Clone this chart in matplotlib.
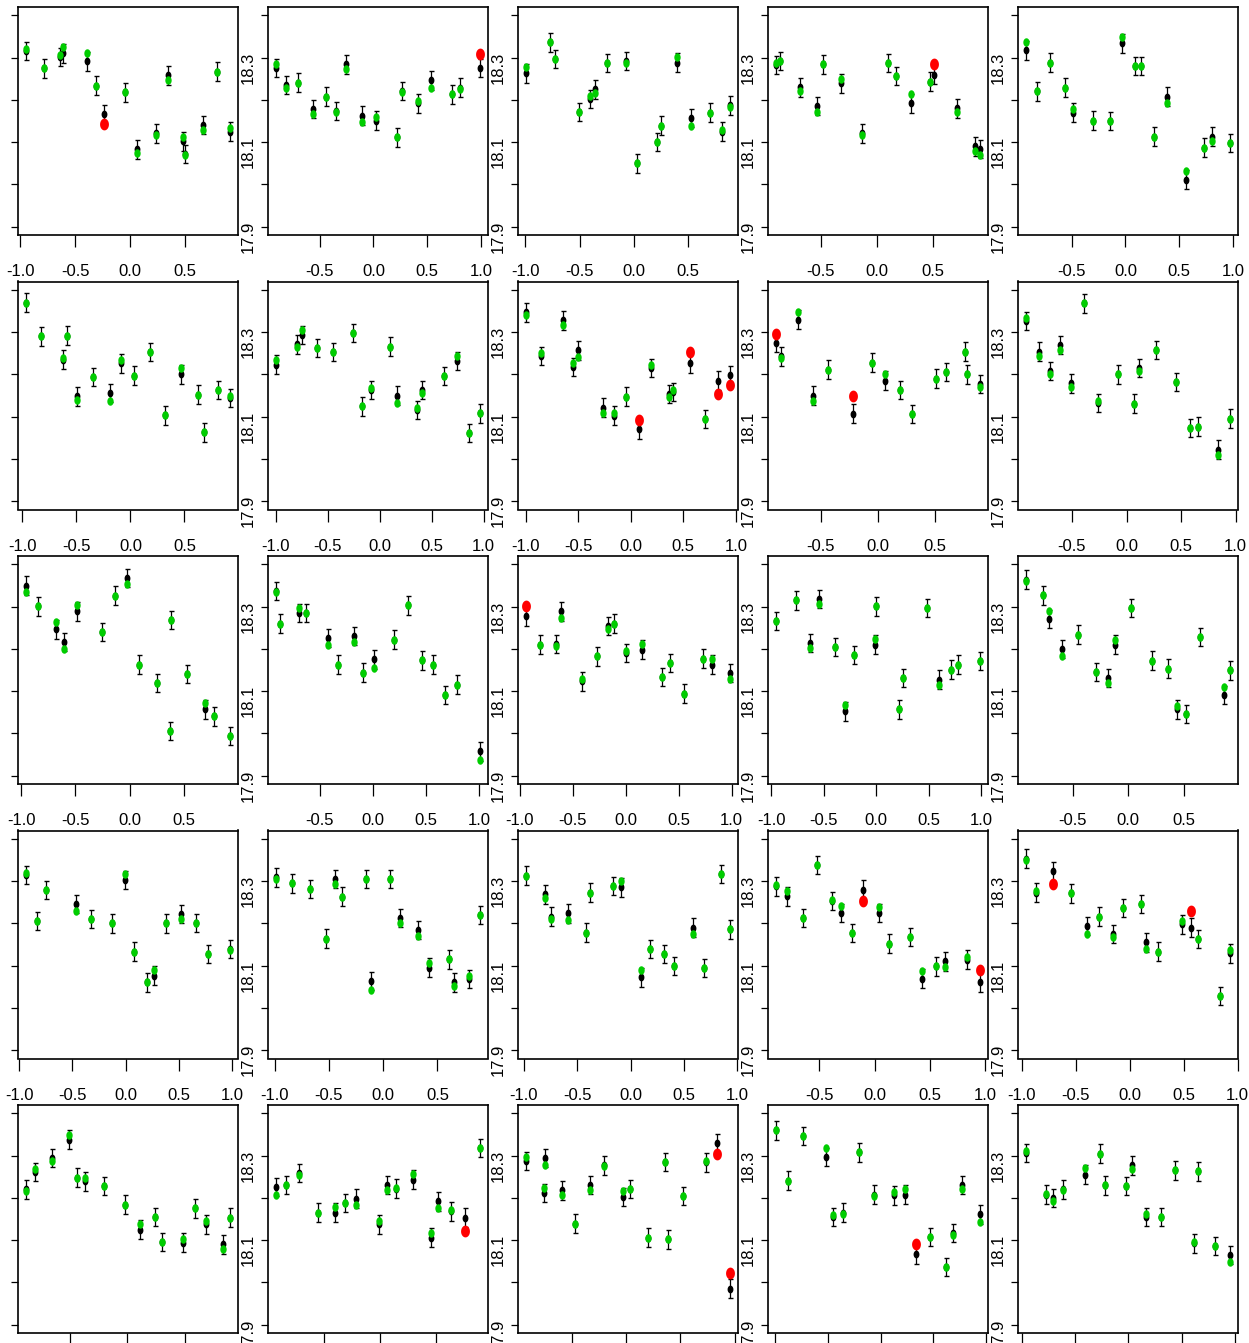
import numpy as np
import matplotlib
matplotlib.use("Agg")
import matplotlib.pyplot as plt
from matplotlib import font_manager
from matplotlib.path import Path

# narrow Helvetica-like face if the box has one, Arial metrics otherwise
installed = {f.name for f in font_manager.fontManager.ttflist}
face = 'Liberation Sans Narrow' if 'Liberation Sans Narrow' in installed else 'Liberation Sans'
plt.rcParams['font.family'] = [face, 'DejaVu Sans']
plt.rcParams['axes.unicode_minus'] = False

# x position, observed value (black, with error bar), fitted value (green),
# and which fitted points are flagged (red) -- one inner list per panel,
# row by row
x_vals = [
    [-0.945,-0.785,-0.64,-0.61,-0.39,-0.31,-0.24,-0.045,0.064,0.233,0.342,0.476,0.5,0.658,0.788,0.906],
    [-0.904,-0.817,-0.697,-0.563,-0.437,-0.347,-0.254,-0.102,0.028,0.217,0.269,0.412,0.532,0.728,0.808,0.99],
    [-0.993,-0.77,-0.726,-0.507,-0.402,-0.354,-0.245,-0.074,0.026,0.219,0.249,0.398,0.533,0.704,0.818,0.888],
    [-0.898,-0.864,-0.681,-0.536,-0.481,-0.315,-0.136,0.102,0.174,0.302,0.472,0.515,0.715,0.881,0.92],
    [-0.922,-0.825,-0.697,-0.565,-0.49,-0.3,-0.146,-0.031,0.093,0.141,0.269,0.388,0.565,0.732,0.807,0.97],
    [-0.966,-0.833,-0.627,-0.583,-0.494,-0.347,-0.185,-0.089,0.037,0.184,0.324,0.464,0.626,0.685,0.811,0.921],
    [-0.997,-0.797,-0.744,-0.605,-0.451,-0.259,-0.166,-0.082,0.095,0.164,0.357,0.411,0.618,0.741,0.857,0.964],
    [-0.994,-0.854,-0.646,-0.547,-0.5,-0.266,-0.161,-0.047,0.082,0.196,0.364,0.399,0.566,0.703,0.826,0.943],
    [-0.889,-0.847,-0.695,-0.57,-0.438,-0.222,-0.056,0.063,0.188,0.298,0.507,0.59,0.757,0.778,0.889],
    [-0.92,-0.8,-0.697,-0.609,-0.513,-0.389,-0.257,-0.081,0.066,0.11,0.272,0.455,0.58,0.653,0.837,0.947],
    [-0.953,-0.843,-0.682,-0.601,-0.484,-0.257,-0.132,-0.029,0.081,0.249,0.367,0.381,0.528,0.696,0.77,0.92],
    [-0.909,-0.872,-0.691,-0.624,-0.421,-0.331,-0.18,-0.09,0.015,0.195,0.331,0.466,0.571,0.676,0.796,1.007],
    [-0.939,-0.804,-0.661,-0.609,-0.413,-0.27,-0.165,-0.105,0.008,0.158,0.346,0.421,0.548,0.729,0.811,0.984],
    [-0.955,-0.766,-0.637,-0.546,-0.394,-0.296,-0.212,-0.015,0.0,0.22,0.258,0.485,0.599,0.713,0.781,0.986],
    [-0.92,-0.77,-0.713,-0.598,-0.454,-0.295,-0.18,-0.122,0.022,0.209,0.353,0.439,0.518,0.641,0.864,0.914],
    [-0.933,-0.828,-0.746,-0.463,-0.321,-0.127,-0.007,0.075,0.201,0.269,0.381,0.522,0.664,0.776,0.978],
    [-0.985,-0.838,-0.669,-0.522,-0.441,-0.375,-0.154,-0.11,0.059,0.154,0.324,0.419,0.61,0.654,0.787,0.89],
    [-0.977,-0.798,-0.746,-0.582,-0.418,-0.38,-0.164,-0.089,0.097,0.186,0.313,0.403,0.582,0.686,0.85,0.93],
    [-0.889,-0.789,-0.648,-0.521,-0.386,-0.301,-0.202,-0.105,0.039,0.127,0.325,0.431,0.557,0.636,0.834,0.952],
    [-0.959,-0.871,-0.707,-0.544,-0.396,-0.285,-0.152,-0.063,0.107,0.152,0.263,0.485,0.567,0.633,0.841,0.929],
    [-0.883,-0.81,-0.659,-0.513,-0.443,-0.367,-0.207,-0.017,0.108,0.242,0.306,0.487,0.589,0.691,0.837,0.895],
    [-0.923,-0.838,-0.719,-0.549,-0.4,-0.315,-0.213,-0.009,0.06,0.14,0.289,0.447,0.515,0.63,0.753,0.885],
    [-0.92,-0.748,-0.757,-0.593,-0.473,-0.332,-0.199,-0.027,0.035,0.199,0.363,0.385,0.522,0.735,0.841,0.956],
    [-0.991,-0.882,-0.736,-0.518,-0.45,-0.359,-0.209,-0.059,0.123,0.232,0.336,0.464,0.618,0.686,0.768,0.941],
    [-0.959,-0.772,-0.709,-0.609,-0.403,-0.269,-0.219,-0.025,0.031,0.166,0.306,0.438,0.613,0.653,0.813,0.95],
]

observed = [
    [18.316,18.275,18.302,18.31,18.291,18.234,18.167,18.218,18.083,18.121,18.258,18.102,18.072,18.141,18.267,18.125],
    [18.276,18.235,18.241,18.178,18.208,18.174,18.284,18.163,18.151,18.111,18.221,18.192,18.246,18.213,18.229,18.276],
    [18.263,18.336,18.297,18.171,18.202,18.225,18.287,18.292,18.05,18.1,18.139,18.288,18.157,18.17,18.125,18.187],
    [18.283,18.292,18.23,18.186,18.284,18.239,18.121,18.287,18.257,18.192,18.243,18.259,18.18,18.09,18.084],
    [18.317,18.22,18.288,18.229,18.17,18.151,18.15,18.334,18.28,18.28,18.113,18.208,18.011,18.087,18.113,18.098],
    [18.37,18.29,18.235,18.292,18.148,18.194,18.156,18.226,18.197,18.253,18.103,18.2,18.152,18.063,18.163,18.144],
    [18.223,18.271,18.293,18.263,18.253,18.298,18.124,18.163,18.266,18.15,18.116,18.163,18.196,18.232,18.061,18.108],
    [18.347,18.244,18.328,18.217,18.257,18.121,18.102,18.147,18.07,18.215,18.154,18.158,18.226,18.094,18.185,18.199],
    [18.275,18.243,18.33,18.15,18.211,18.107,18.228,18.185,18.163,18.106,18.19,18.206,18.254,18.2,18.177],
    [18.326,18.254,18.208,18.27,18.179,18.368,18.132,18.2,18.131,18.215,18.258,18.182,18.073,18.076,18.022,18.095],
    [18.35,18.301,18.246,18.216,18.289,18.24,18.326,18.368,18.163,18.119,18.006,18.268,18.141,18.057,18.04,17.994],
    [18.337,18.26,18.285,18.285,18.226,18.163,18.231,18.144,18.175,18.222,18.303,18.173,18.163,18.091,18.115,17.957],
    [18.277,18.21,18.212,18.289,18.123,18.182,18.254,18.26,18.19,18.198,18.133,18.167,18.094,18.177,18.163,18.143],
    [18.266,18.315,18.214,18.318,18.204,18.052,18.186,18.21,18.301,18.057,18.131,18.297,18.127,18.151,18.163,18.171],
    [18.364,18.327,18.271,18.2,18.234,18.145,18.131,18.21,18.297,18.172,18.153,18.057,18.046,18.228,18.091,18.149],
    [18.315,18.206,18.279,18.246,18.21,18.2,18.303,18.133,18.06,18.076,18.2,18.222,18.201,18.127,18.139],
    [18.309,18.295,18.281,18.164,18.305,18.263,18.305,18.064,18.305,18.213,18.184,18.095,18.115,18.06,18.068,18.22],
    [18.313,18.269,18.216,18.224,18.178,18.273,18.289,18.285,18.072,18.139,18.127,18.099,18.19,18.094,18.317,18.186],
    [18.288,18.264,18.213,18.338,18.253,18.225,18.177,18.28,18.225,18.152,18.168,18.069,18.098,18.11,18.114,18.06],
    [18.353,18.273,18.323,18.271,18.194,18.216,18.175,18.236,18.246,18.155,18.133,18.198,18.19,18.163,18.028,18.129],
    [18.22,18.261,18.294,18.338,18.248,18.239,18.228,18.184,18.125,18.155,18.096,18.094,18.175,18.137,18.09,18.153],
    [18.226,18.231,18.259,18.165,18.165,18.188,18.198,18.137,18.231,18.222,18.243,18.106,18.192,18.168,18.153,18.318],
    [18.287,18.294,18.212,18.218,18.139,18.231,18.277,18.202,18.221,18.106,18.285,18.102,18.204,18.284,18.33,17.985],
    [18.36,18.241,18.347,18.297,18.155,18.165,18.308,18.208,18.206,18.208,18.066,18.107,18.036,18.117,18.231,18.161],
    [18.306,18.208,18.2,18.22,18.255,18.305,18.23,18.228,18.277,18.155,18.155,18.265,18.092,18.263,18.086,18.065],
]

fitted = [
    [18.32,18.275,18.306,18.325,18.312,18.234,18.144,18.218,18.075,18.116,18.247,18.113,18.07,18.129,18.267,18.133],
    [18.285,18.228,18.241,18.166,18.208,18.172,18.273,18.147,18.159,18.111,18.218,18.198,18.229,18.213,18.226,18.309],
    [18.279,18.336,18.297,18.171,18.21,18.217,18.287,18.288,18.05,18.1,18.139,18.302,18.139,18.168,18.128,18.184],
    [18.287,18.293,18.222,18.172,18.284,18.25,18.117,18.287,18.257,18.213,18.243,18.285,18.172,18.08,18.07],
    [18.336,18.22,18.288,18.229,18.178,18.151,18.15,18.35,18.28,18.28,18.113,18.192,18.032,18.087,18.103,18.098],
    [18.37,18.29,18.239,18.29,18.14,18.194,18.138,18.234,18.197,18.253,18.103,18.214,18.152,18.063,18.163,18.15],
    [18.233,18.265,18.306,18.263,18.253,18.298,18.124,18.168,18.266,18.132,18.12,18.155,18.196,18.243,18.061,18.108],
    [18.341,18.25,18.317,18.228,18.242,18.108,18.109,18.147,18.092,18.223,18.147,18.162,18.252,18.094,18.154,18.175],
    [18.295,18.239,18.348,18.137,18.211,18.15,18.226,18.2,18.163,18.106,18.19,18.206,18.254,18.2,18.17],
    [18.334,18.243,18.2,18.258,18.171,18.368,18.136,18.2,18.131,18.207,18.258,18.182,18.073,18.076,18.01,18.095],
    [18.334,18.301,18.263,18.2,18.303,18.24,18.326,18.353,18.163,18.119,18.006,18.268,18.141,18.072,18.04,17.994],
    [18.334,18.26,18.297,18.285,18.21,18.163,18.216,18.144,18.155,18.222,18.303,18.173,18.163,18.091,18.115,17.937],
    [18.301,18.21,18.208,18.273,18.129,18.182,18.246,18.26,18.194,18.212,18.133,18.167,18.094,18.177,18.175,18.129],
    [18.266,18.315,18.202,18.307,18.204,18.068,18.186,18.224,18.301,18.057,18.131,18.297,18.115,18.151,18.163,18.171],
    [18.36,18.327,18.289,18.184,18.234,18.145,18.119,18.22,18.297,18.172,18.153,18.064,18.046,18.228,18.11,18.149],
    [18.319,18.206,18.279,18.23,18.21,18.2,18.317,18.133,18.06,18.09,18.2,18.21,18.201,18.127,18.137],
    [18.305,18.295,18.281,18.164,18.293,18.263,18.305,18.042,18.305,18.201,18.171,18.105,18.115,18.052,18.076,18.22],
    [18.313,18.26,18.21,18.208,18.178,18.273,18.289,18.301,18.089,18.139,18.127,18.099,18.175,18.094,18.317,18.186],
    [18.292,18.276,18.213,18.338,18.255,18.242,18.177,18.254,18.238,18.152,18.168,18.088,18.098,18.096,18.121,18.09],
    [18.35,18.277,18.293,18.273,18.176,18.214,18.167,18.236,18.246,18.139,18.133,18.205,18.23,18.163,18.028,18.137],
    [18.217,18.269,18.287,18.35,18.247,18.246,18.228,18.184,18.137,18.155,18.096,18.102,18.175,18.146,18.08,18.153],
    [18.208,18.231,18.255,18.165,18.179,18.188,18.182,18.145,18.218,18.224,18.257,18.117,18.176,18.172,18.121,18.318],
    [18.298,18.279,18.224,18.208,18.139,18.218,18.275,18.216,18.221,18.106,18.285,18.102,18.204,18.288,18.304,18.023],
    [18.36,18.241,18.347,18.318,18.159,18.161,18.308,18.204,18.213,18.221,18.091,18.107,18.036,18.113,18.221,18.143],
    [18.31,18.21,18.192,18.218,18.271,18.305,18.23,18.228,18.269,18.163,18.155,18.265,18.096,18.263,18.086,18.049],
]

flagged = [
    [6], [15], [], [11], [],
    [], [], [8, 12, 14, 15], [0, 5], [],
    [], [], [0], [], [],
    [], [], [], [7, 15], [2, 12],
    [], [14], [14, 15], [10], [],
]

err_half = 0.022
y_ticks = [17.9, 18.0, 18.1, 18.2, 18.3, 18.4]
y_tick_labels = ['17.9', '', '18.1', '', '18.3', '']
x_tick_candidates = [-1.0, -0.5, 0.0, 0.5, 1.0]

# oval dot like the stretched R points
t = np.linspace(0, 2 * np.pi, 60)
oval = Path(np.column_stack([0.75 * np.cos(t), np.sin(t)]), closed=True)

W, H = 1249, 1343
fig = plt.figure(figsize=(W / 100, H / 100), dpi=100)

for i in range(25):
    r, c = divmod(i, 5)
    left = 18 + 250 * c
    top = 7 + 274.5 * r
    ax = fig.add_axes([left / W, 1 - (top + 228) / H, 220 / W, 228 / H])

    x = np.array(x_vals[i])
    obs = np.array(observed[i])
    fit = np.array(fitted[i])
    red = np.zeros(len(x), dtype=bool)
    red[flagged[i]] = True

    ax.errorbar(x, obs, yerr=err_half, fmt='none', ecolor='black',
                elinewidth=0.9, capsize=1.8, capthick=1.0, zorder=2)
    ax.plot(x, obs, linestyle='none', marker=oval, markersize=5.6,
            color='black', markeredgewidth=0, zorder=3)
    ax.plot(x[~red], fit[~red], linestyle='none', marker=oval, markersize=6.1,
            color='#00CD00', markeredgewidth=0, zorder=4)
    ax.plot(x[red], fit[red], linestyle='none', marker=oval, markersize=8.5,
            color='#FF0000', markeredgewidth=0, zorder=5)

    # R style 4% padding around the data
    span = x.max() - x.min()
    lo, hi = x.min() - 0.04 * span, x.max() + 0.04 * span
    ax.set_xlim(lo, hi)
    ax.set_ylim(17.88, 18.42)

    xt = [v for v in x_tick_candidates if lo <= v <= hi]
    ax.set_xticks(xt)
    ax.set_xticklabels(['%.1f' % v for v in xt])
    ax.set_yticks(y_ticks)
    ax.set_yticklabels(y_tick_labels)

    # the first column's labels and the last row's fall off the page
    ax.tick_params(axis='x', direction='out', length=8.6, width=0.9,
                   pad=12.5, labelsize=12, labelbottom=(r < 4))
    ax.tick_params(axis='y', direction='out', length=5, width=0.9,
                   labelleft=(c > 0), labelrotation=90, pad=3.6, labelsize=12)
    for s in ax.spines.values():
        s.set_linewidth(1.2)

fig.savefig('out.png', dpi=100)
